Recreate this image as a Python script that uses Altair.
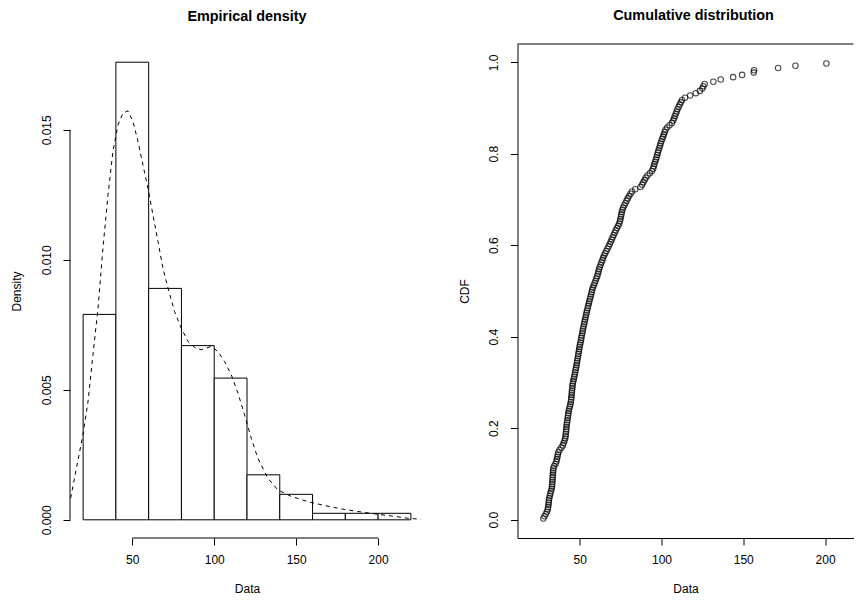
import altair as alt
import pandas as pd

FONT = "Liberation Sans"

# ---------------- histogram ----------------
bin_start = [20, 40, 60, 80, 100, 120, 140, 160, 180, 200]
bin_end = [40, 60, 80, 100, 120, 140, 160, 180, 200, 220]
bin_density = [0.0079, 0.0176, 0.0089, 0.0067, 0.00545, 0.00173, 0.00098, 0.00025, 0.00025, 0.00025]

# ---------------- kernel density curve ----------------
dens_x = [12.4, 15.9, 19.9, 23.0, 26.0, 29.1, 32.1, 35.2, 38.2, 41.3, 44.3, 47.4, 50.4, 53.5,
          56.5, 59.6, 62.6, 65.7, 68.7, 71.8, 75.8, 79.9, 84.0, 88.0, 92.1, 98.2, 102.3, 106.3,
          110.4, 114.5, 118.5, 122.6, 126.6, 132.7, 138.8, 147.0, 157.1, 167.3, 177.4, 187.6,
          197.7, 207.9, 218.1, 226.2]
dens_y = [0.00083, 0.00198, 0.00327, 0.00455, 0.00635, 0.00814, 0.01045, 0.0125, 0.01417,
          0.01519, 0.01564, 0.01573, 0.01532, 0.01455, 0.01365, 0.01275, 0.01173, 0.0107,
          0.00968, 0.00891, 0.00801, 0.00737, 0.00686, 0.00663, 0.00654, 0.00667, 0.00647,
          0.00609, 0.00558, 0.00487, 0.00404, 0.00314, 0.00237, 0.0016, 0.00115, 0.0009,
          0.0007, 0.00055, 0.00042, 0.00032, 0.00023, 0.00015, 0.00006, 0.00002]

data_values = [
    27.8, 28.5, 29.3, 30.0, 30.5, 30.7, 30.9, 31.1, 31.2, 31.4,
    31.8, 32.1, 32.5, 32.9, 33.1, 33.2, 33.3, 33.4, 33.5, 33.6,
    33.7, 33.8, 33.9, 34.4, 35.2, 35.8, 36.1, 36.4, 36.7, 37.0,
    37.7, 38.8, 39.7, 40.2, 40.7, 41.1, 41.4, 41.5, 41.7, 41.8,
    41.9, 42.1, 42.3, 42.5, 42.7, 42.9, 43.1, 43.3, 43.6, 44.0,
    44.3, 44.6, 44.8, 44.9, 45.1, 45.2, 45.3, 45.5, 45.6, 45.8,
    46.1, 46.4, 46.7, 47.0, 47.2, 47.5, 47.8, 48.1, 48.3, 48.5,
    48.8, 49.0, 49.2, 49.5, 49.7, 49.9, 50.2, 50.5, 50.8, 51.0,
    51.3, 51.6, 51.8, 52.1, 52.4, 52.7, 53.0, 53.3, 53.6, 53.9,
    54.2, 54.5, 54.9, 55.2, 55.6, 55.9, 56.3, 56.6, 57.0, 57.3,
    57.7, 58.1, 58.6, 59.2, 59.7, 60.2, 60.7, 61.2, 61.5, 61.8,
    62.3, 62.8, 63.3, 63.9, 64.4, 64.9, 65.6, 66.3, 67.0, 67.7,
    68.4, 69.0, 69.6, 70.2, 70.8, 71.4, 72.1, 72.8, 73.5, 74.2,
    74.6, 74.9, 75.2, 75.5, 75.8, 76.1, 76.6, 77.3, 78.0, 78.7,
    79.4, 80.2, 81.1, 82.0, 84.0, 87.2, 88.2, 88.9, 89.7, 90.4,
    91.5, 92.9, 94.2, 94.9, 95.3, 95.7, 96.1, 96.6, 97.0, 97.4,
    97.8, 98.2, 98.7, 99.1, 99.5, 99.9, 100.5, 101.0, 101.5, 102.0,
    102.5, 103.5, 104.9, 106.4, 107.2, 107.7, 108.2, 108.8, 109.3, 109.8,
    110.5, 111.2, 111.9, 112.6, 114.4, 117.5, 121.0, 123.5, 125.0, 125.6,
    126.4, 131.7, 136.2, 143.8, 149.3, 156.4, 156.6, 171.3, 181.9, 200.8,
]

# axis tick labels
left_x_ticks = [50, 100, 150, 200]
left_y_ticks = [0.0, 0.005, 0.010, 0.015]
right_x_ticks = [50, 100, 150, 200]
right_y_ticks = [0.0, 0.2, 0.4, 0.6, 0.8, 1.0]

hist_df = pd.DataFrame({"start": bin_start, "end": bin_end, "density": bin_density})
dens_df = pd.DataFrame({"x": dens_x, "y": dens_y})
obs_df = pd.DataFrame({"value": data_values})
xline_df = pd.DataFrame({"a": [left_x_ticks[0]], "b": [left_x_ticks[-1]]})
yline_df = pd.DataFrame({"a": [left_y_ticks[0]], "b": [left_y_ticks[-1]]})

LW, RW, H = 354, 336, 494

common_axis = dict(grid=False, tickSize=7, tickColor="black", tickWidth=1,
                   labelColor="black", titleColor="black", labelFont=FONT, titleFont=FONT,
                   labelFontSize=12, titleFontSize=12, titleFontWeight="normal",
                   labelOverlap=False, labelFlush=False)

lx_axis = alt.Axis(title="Data", values=left_x_ticks, format="d", domain=False,
                   labelPadding=9, titlePadding=18.5, **common_axis)
ly_axis = alt.Axis(title="Density", values=left_y_ticks, format=".3f", domain=False,
                   labelAngle=270, labelAlign="center", labelBaseline="bottom",
                   labelPadding=10, titlePadding=16.5, **common_axis)

lx_scale = alt.Scale(domain=[12, 228], nice=False, zero=False)
ly_scale = alt.Scale(domain=[-0.0007, 0.0183], nice=False, zero=False)

bars = alt.Chart(hist_df).mark_rect(fill="white", stroke="black", strokeWidth=1).encode(
    x=alt.X("start:Q", scale=lx_scale, axis=lx_axis),
    x2="end:Q",
    y=alt.Y("density:Q", scale=ly_scale, axis=ly_axis),
    y2=alt.datum(0),
)
dline = alt.Chart(dens_df).mark_line(color="black", strokeWidth=1, strokeDash=[4, 4]).encode(
    x=alt.X("x:Q", scale=lx_scale, axis=lx_axis),
    y=alt.Y("y:Q", scale=ly_scale, axis=ly_axis),
)
xaxis_line = alt.Chart(xline_df).mark_rule(color="black", strokeWidth=1).encode(
    x=alt.X("a:Q", scale=lx_scale, axis=lx_axis), x2="b:Q", y=alt.value(H)
)
yaxis_line = alt.Chart(yline_df).mark_rule(color="black", strokeWidth=1).encode(
    y=alt.Y("a:Q", scale=ly_scale, axis=ly_axis), y2="b:Q", x=alt.value(0)
)

left = alt.layer(bars, dline, xaxis_line, yaxis_line).properties(
    width=LW, height=H,
    title=alt.TitleParams("Empirical density", font=FONT, fontSize=14.4, fontWeight="bold",
                          color="black", anchor="middle", frame="group", offset=14, dy=-6),
)

rx_axis = alt.Axis(title="Data", values=right_x_ticks, format="d", domain=True,
                   domainColor="black", domainWidth=1,
                   labelPadding=9, titlePadding=18.5, **common_axis)
ry_axis = alt.Axis(title="CDF", values=right_y_ticks, format=".1f", domain=True,
                   domainColor="black", domainWidth=1,
                   labelAngle=270, labelAlign="center", labelBaseline="bottom",
                   labelPadding=10, titlePadding=16.5, **common_axis)

points = alt.Chart(obs_df).transform_window(
    rank="row_number()", sort=[alt.SortField("value")]
).transform_joinaggregate(n="count()").transform_calculate(
    cdf="(datum.rank - 0.5) / datum.n"
).mark_point(shape="circle", filled=False, color="black", size=30, strokeWidth=1.1).encode(
    x=alt.X("value:Q", scale=alt.Scale(domain=[12, 12 + RW / 1.636], nice=False, zero=False), axis=rx_axis),
    y=alt.Y("cdf:Q", scale=alt.Scale(domain=[-0.04, 1.04], nice=False, zero=False), axis=ry_axis),
)
top_border = alt.Chart(xline_df).mark_rule(color="black", strokeWidth=1).encode(
    x=alt.value(0), x2=alt.value(RW), y=alt.value(0)
)

right = alt.layer(points, top_border).properties(
    width=RW, height=H,
    title=alt.TitleParams("Cumulative distribution", font=FONT, fontSize=14.4, fontWeight="bold",
                          color="black", anchor="middle", frame="group", offset=14, dy=-6, dx=8),
)

chart = alt.hconcat(left, right, spacing=33.5).properties(
    padding={"left": 2, "top": 0, "right": 0, "bottom": 2},
    background="white",
).configure_view(stroke=None).configure_concat(spacing=33.5)

chart.save("out.html", embed_options={"renderer": "svg", "actions": False})
